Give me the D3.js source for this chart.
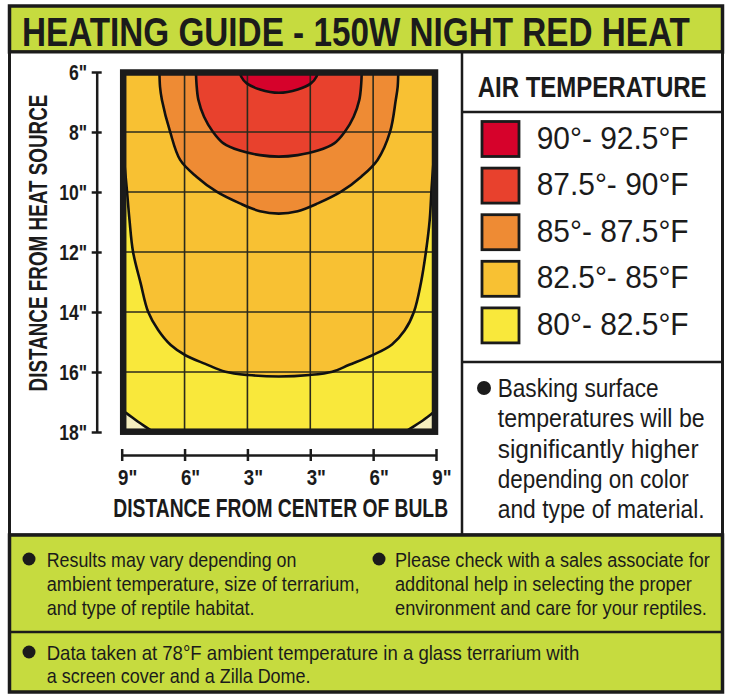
<!DOCTYPE html>
<html><head><meta charset="utf-8">
<script src="https://cdn.jsdelivr.net/npm/d3@7"></script>
<style>
body{margin:0;background:#fff;}
svg{display:block;}
text{font-family:"Liberation Sans Narrow","Arial Narrow","Liberation Sans",Arial,sans-serif;fill:#1b1b1b;}
</style></head><body>
<svg id="c" width="730" height="700"></svg>
<script>
// ---------- data ----------
const title = "HEATING GUIDE - 150W NIGHT RED HEAT";
const yTicks = [6, 8, 10, 12, 14, 16, 18];           // inches from heat source
const xTickPos = [0, 1, 2, 3, 4, 5];                   // grid columns
const xTickLabels = ['9"', '6"', '3"', '3"', '6"', '9"'];
const xGrid = [1, 2, 3, 4];
const yGrid = [8, 10, 12, 14, 16];
const legendTitle = "AIR TEMPERATURE";
const bandLabels = ["90°- 92.5°F", "87.5°- 90°F", "85°- 87.5°F", "82.5°- 85°F", "80°- 82.5°F"];
// contour boundaries: [grid column, inches]
const contour90 = [[1.87,5.9],[1.9,6.15],[1.99,6.38],[2.2,6.58],[2.5,6.69],[2.8,6.58],[3.01,6.38],[3.1,6.15],[3.13,5.9]];
const contour875 = [[1.18,5.9],[1.19,6.4],[1.22,6.93],[1.31,7.49],[1.45,7.99],[1.62,8.38],[1.88,8.62],[2.2,8.77],[2.5,8.82],
                    [2.8,8.77],[3.12,8.62],[3.38,8.38],[3.55,7.99],[3.69,7.49],[3.78,6.93],[3.81,6.4],[3.82,5.9]];
const contour85 = [[0.6,5.9],[0.61,6.5],[0.64,6.93],[0.77,7.99],[0.93,8.93],[1.19,9.49],[1.51,9.99],[1.88,10.38],[2.2,10.64],[2.5,10.72],
                   [2.8,10.64],[3.12,10.38],[3.49,9.99],[3.81,9.49],[4.07,8.93],[4.27,7.99],[4.36,6.93],[4.39,6.5],[4.4,5.9]];
const contour825 = [[0.04,9.0],[0.08,9.87],[0.124,10.93],[0.18,11.99],[0.3,13.03],[0.42,13.99],[0.58,14.6],[0.78,15.1],[1.02,15.45],
                    [1.33,15.73],[1.65,15.99],[2.01,16.1],[2.5,16.15],[2.99,16.1],[3.35,15.99],[3.62,15.76],[4.0,15.43],[4.3,15.08],
                    [4.5,14.62],[4.65,13.99],[4.76,13.03],[4.84,11.99],[4.9,10.93],[4.93,9.87],[4.96,9.0]];
const cornerLeft80 = [[-0.05,17.2],[0.08,17.38],[0.26,17.66],[0.45,17.93],[0.55,18.1]];
const cornerRight80 = [[4.45,18.1],[4.56,17.93],[4.76,17.66],[4.94,17.38],[5.05,17.2]];
const baskingLines = ["Basking surface", "temperatures will be", "significantly higher", "depending on color", "and type of material."];
const notesLeft = ["Results may vary depending on", "ambient temperature, size of terrarium,", "and type of reptile habitat."];
const notesRight = ["Please check with a sales associate for", "additonal help in selecting the proper", "environment and care for your reptiles."];
const notesBottom = ["Data taken at 78°F ambient temperature in a glass terrarium with", "a screen cover and a Zilla Dome."];

// ---------- styles ----------
const bandColors = ["#d6022b", "#e8412d", "#ee8b34", "#f8c133", "#f9e83b"];
const coolColor = "#f6efbf";
const green = "#c6db3f";
const ink = "#1b1b1b";

const svg = d3.select("#c");
// text squeezed horizontally to a measured width (condensed look)
function fit(g, s, x, y, size, weight, width, anchor, rot) {
  const gg = g.append("g");
  const t = gg.append("text").attr("font-size", size).attr("font-weight", weight).text(s);
  if (anchor) t.attr("text-anchor", anchor);
  const w = t.node().getComputedTextLength();
  const sx = width ? width / w : 1;
  gg.attr("transform", `translate(${x},${y})${rot ? ` rotate(${rot})` : ""} scale(${sx},1)`);
  return t;
}

// ---------- frame ----------
svg.append("rect").attr("x", 9.5).attr("y", 6).attr("width", 713).attr("height", 46)
  .attr("fill", green).attr("stroke", ink).attr("stroke-width", 3.5);
svg.append("rect").attr("x", 9.5).attr("y", 52).attr("width", 713).attr("height", 483)
  .attr("fill", "#fff").attr("stroke", ink).attr("stroke-width", 3);
svg.append("rect").attr("x", 9.5).attr("y", 535).attr("width", 713).attr("height", 157)
  .attr("fill", green).attr("stroke", ink).attr("stroke-width", 3.5);
svg.append("line").attr("x1", 9.5).attr("x2", 722.5).attr("y1", 632).attr("y2", 632)
  .attr("stroke", ink).attr("stroke-width", 2.5);
svg.append("line").attr("x1", 462).attr("x2", 462).attr("y1", 52).attr("y2", 535)
  .attr("stroke", ink).attr("stroke-width", 2.5);
svg.append("line").attr("x1", 462).attr("x2", 722.5).attr("y1", 112).attr("y2", 112)
  .attr("stroke", ink).attr("stroke-width", 2.5);
svg.append("line").attr("x1", 462).attr("x2", 722.5).attr("y1", 362).attr("y2", 362)
  .attr("stroke", ink).attr("stroke-width", 2.5);

fit(svg, title, 22, 46, 40, "bold", 668);

// ---------- chart ----------
const x = d3.scaleLinear().domain([0, 5]).range([121.7, 436]);
const y = d3.scaleLinear().domain([6, 18]).range([72, 432]);
const bx0 = x(0) + 1.5, bx1 = x(5) - 1, by0 = y(6) + 0.5, by1 = y(18) - 0.3;

svg.append("clipPath").attr("id", "plotclip").append("rect")
  .attr("x", bx0).attr("y", by0).attr("width", bx1 - bx0).attr("height", by1 - by0);
const plot = svg.append("g").attr("clip-path", "url(#plotclip)");

const line = d3.line().x(d => x(d[0])).y(d => y(d[1])).curve(d3.curveCatmullRom.alpha(0.5));

plot.append("rect").attr("x", bx0).attr("y", by0).attr("width", bx1 - bx0).attr("height", by1 - by0)
  .attr("fill", bandColors[4]);
plot.append("path").attr("fill", bandColors[3])
  .attr("d", line(contour825) + `L${x(5.3)},${y(9)}L${x(5.3)},${y(5.5)}L${x(-0.3)},${y(5.5)}L${x(-0.3)},${y(9)}Z`);
plot.append("path").attr("fill", bandColors[2]).attr("d", line(contour85) + "Z");
plot.append("path").attr("fill", bandColors[1]).attr("d", line(contour875) + "Z");
plot.append("path").attr("fill", bandColors[0]).attr("d", line(contour90) + "Z");
plot.append("path").attr("fill", coolColor).attr("d", line(cornerLeft80) + `L${x(-0.3)},${y(18.3)}Z`);
plot.append("path").attr("fill", coolColor).attr("d", line(cornerRight80) + `L${x(5.3)},${y(18.3)}Z`);

plot.selectAll(".vg").data(xGrid).join("line").attr("class", "vg")
  .attr("x1", d => x(d)).attr("x2", d => x(d)).attr("y1", y(6)).attr("y2", y(18))
  .attr("stroke", "#2b2a1c").attr("stroke-width", 1.6);
plot.selectAll(".hg").data(yGrid).join("line").attr("class", "hg")
  .attr("x1", x(0)).attr("x2", x(5)).attr("y1", d => y(d)).attr("y2", d => y(d))
  .attr("stroke", "#2b2a1c").attr("stroke-width", 1.6);

[contour825, contour85, contour875, contour90, cornerLeft80, cornerRight80].forEach(c => {
  plot.append("path").attr("d", line(c)).attr("fill", "none").attr("stroke", "#111").attr("stroke-width", 2.6);
});

svg.append("rect").attr("x", bx0).attr("y", by0).attr("width", bx1 - bx0).attr("height", by1 - by0)
  .attr("fill", "none").attr("stroke", ink).attr("stroke-width", 6.5);

// axes
const yAxis = svg.append("g").attr("transform", "translate(96.7,0)")
  .call(d3.axisLeft(y).tickValues(yTicks).tickFormat(d => d + '"').tickSizeOuter(0).tickSizeInner(5).tickPadding(4));
yAxis.attr("font-size", null).attr("font-family", null);
yAxis.select(".domain").attr("stroke", ink).attr("stroke-width", 2.5);
yAxis.selectAll(".tick line").attr("x1", 5).attr("x2", -5).attr("stroke", ink).attr("stroke-width", 2.5);
yAxis.selectAll(".tick text").attr("font-size", 22).attr("font-weight", "bold").attr("dy", "0.36em")
  .attr("x", 0).attr("transform", "translate(-9.5,0) scale(0.8,1)");

const xAxis = svg.append("g").attr("transform", "translate(0,455)")
  .call(d3.axisBottom(x).tickValues(xTickPos).tickFormat(i => xTickLabels[i]).tickSizeOuter(0).tickSizeInner(6));
xAxis.attr("font-size", null).attr("font-family", null);
xAxis.select(".domain").attr("stroke", ink).attr("stroke-width", 2.5);
xAxis.selectAll(".tick line").attr("y1", -6).attr("y2", 6).attr("stroke", ink).attr("stroke-width", 2.5);
xAxis.selectAll(".tick text").attr("font-size", 22).attr("font-weight", "bold").attr("y", 0).attr("dy", 0)
  .attr("transform", "translate(5.5,30) scale(0.85,1)");

fit(svg, "DISTANCE FROM CENTER OF BULB", 113.3, 517.3, 26, "bold", 335);
fit(svg, "DISTANCE FROM HEAT SOURCE", 46.5, 243, 26, "bold", 297, "middle", -90);

// ---------- legend ----------
fit(svg, legendTitle, 477.7, 96.7, 29, "bold", 229);
const leg = svg.append("g");
bandLabels.forEach((lab, i) => {
  const cy = 139 + i * 46.6;
  leg.append("rect").attr("x", 482).attr("y", cy - 17.5).attr("width", 37).attr("height", 35)
    .attr("fill", bandColors[i]).attr("stroke", ink).attr("stroke-width", 2.8);
  fit(leg, lab, 536.7, cy + 9.5, 31, "normal", 152);
});

// ---------- notes ----------
const baskLens = [161, 207, 201, 191, 207];
svg.append("circle").attr("cx", 484).attr("cy", 388).attr("r", 7).attr("fill", ink);
baskingLines.forEach((s, i) => fit(svg, s, 497.7, 396.7 + i * 30.4, 25, "normal", baskLens[i]));

const leftLens = [250, 313, 208];
const rightLens = [315, 297, 312];
const botLens = [533, 264];
svg.append("circle").attr("cx", 29).attr("cy", 559).attr("r", 6.5).attr("fill", ink);
svg.append("circle").attr("cx", 379).attr("cy", 559).attr("r", 6.5).attr("fill", ink);
svg.append("circle").attr("cx", 29).attr("cy", 652).attr("r", 6.5).attr("fill", ink);
notesLeft.forEach((s, i) => fit(svg, s, 46.7, 567 + i * 24, 21, "normal", leftLens[i]));
notesRight.forEach((s, i) => fit(svg, s, 395, 567 + i * 24, 21, "normal", rightLens[i]));
notesBottom.forEach((s, i) => fit(svg, s, 46.7, 660 + i * 22.5, 21, "normal", botLens[i]));
</script>
</body></html>
